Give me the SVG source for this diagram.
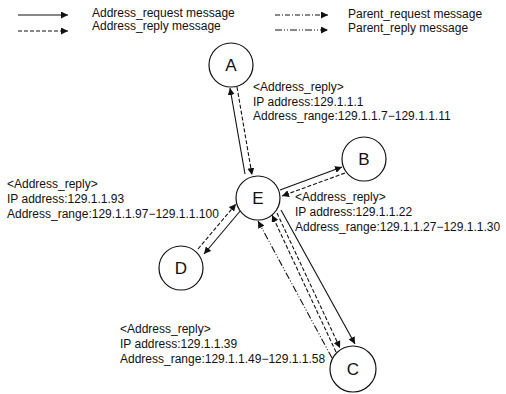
<svg xmlns="http://www.w3.org/2000/svg" width="506" height="394" viewBox="0 0 506 394">
<style>
text{font-family:"Liberation Sans",Arial,sans-serif;font-size:12px;fill:#111}
.nl{font-size:17px;text-anchor:middle}
.node{fill:#fff;stroke:#111;stroke-width:1.2}
.ln{fill:none;stroke:#111;stroke-width:1.1}
.req{}
.rep{stroke-dasharray:4 2}
.preq{stroke-dasharray:5 2 1 2}
.prep{stroke-dasharray:7 2 1 2 1 2}
</style>
<defs>
<marker id="ah" viewBox="0 0 10 10" refX="10" refY="5" markerWidth="7" markerHeight="7" markerUnits="userSpaceOnUse" orient="auto">
<path d="M0,0 L10,5 L0,10 z" fill="#111"/>
</marker>
</defs>
<rect width="506" height="394" fill="#fff"/>
<g id="legend">
<line class="ln req" x1="18" y1="15" x2="68" y2="15" marker-end="url(#ah)"/>
<text x="92" y="17">Address_request message</text>
<line class="ln rep" x1="18" y1="31" x2="68" y2="31" marker-end="url(#ah)"/>
<text x="92" y="30">Address_reply message</text>
<line class="ln preq" x1="275" y1="15" x2="328" y2="15" marker-end="url(#ah)"/>
<text x="348" y="18">Parent_request message</text>
<line class="ln prep" x1="275" y1="30" x2="328" y2="30" marker-end="url(#ah)"/>
<text x="348" y="32">Parent_reply message</text>
</g>
<g id="connectors">
<line class="ln req" x1="245" y1="174" x2="230" y2="88" marker-end="url(#ah)"/>
<line class="ln rep" x1="237" y1="87" x2="252" y2="175" marker-end="url(#ah)"/>
<line class="ln req" x1="280" y1="190" x2="342" y2="167" marker-end="url(#ah)"/>
<line class="ln rep" x1="345" y1="173" x2="282" y2="196" marker-end="url(#ah)"/>
<line class="ln rep" x1="198" y1="249" x2="236" y2="204" marker-end="url(#ah)"/>
<line class="ln req" x1="241" y1="210" x2="204" y2="254" marker-end="url(#ah)"/>
<line class="ln prep" x1="332" y1="358" x2="258" y2="221" marker-end="url(#ah)"/>
<line class="ln rep" x1="336" y1="352" x2="272" y2="215" marker-end="url(#ah)"/>
<line class="ln rep" x1="277" y1="213" x2="340" y2="348" marker-end="url(#ah)"/>
<line class="ln req" x1="281" y1="210" x2="355" y2="344" marker-end="url(#ah)"/>
</g>
<g id="A">
<circle class="node" cx="231" cy="65" r="22"/>
<text class="nl" x="231" y="71">A</text>
</g>
<g id="E">
<circle class="node" cx="258" cy="198" r="22" stroke-width="2"/>
<text class="nl" x="258" y="204">E</text>
</g>
<g id="B">
<circle class="node" cx="364" cy="159" r="22"/>
<text class="nl" x="364" y="165">B</text>
</g>
<g id="D">
<circle class="node" cx="181" cy="268" r="22"/>
<text class="nl" x="181" y="274">D</text>
</g>
<g id="C">
<circle class="node" cx="353" cy="369" r="23"/>
<text class="nl" x="353" y="375">C</text>
</g>
<g id="labels">
<text x="253" y="91">&lt;Address_reply&gt;</text>
<text x="253" y="106">IP address:129.1.1.1</text>
<text x="253" y="120">Address_range:129.1.1.7−129.1.1.11</text>
<text x="295" y="201">&lt;Address_reply&gt;</text>
<text x="295" y="216">IP address:129.1.1.22</text>
<text x="295" y="231">Address_range:129.1.1.27−129.1.1.30</text>
<text x="7" y="188">&lt;Address_reply&gt;</text>
<text x="7" y="203">IP address:129.1.1.93</text>
<text x="7" y="218">Address_range:129.1.1.97−129.1.1.100</text>
<text x="120" y="333">&lt;Address_reply&gt;</text>
<text x="120" y="348">IP address:129.1.1.39</text>
<text x="120" y="363">Address_range:129.1.1.49−129.1.1.58</text>
</g>
</svg>
